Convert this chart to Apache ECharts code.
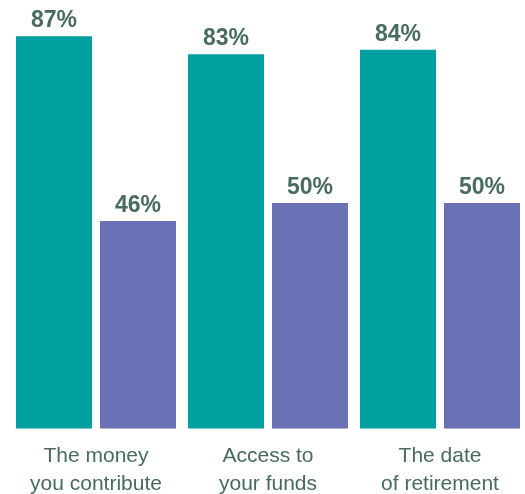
<!DOCTYPE html>
<html>
<head>
<meta charset="utf-8">
<script src="https://cdn.jsdelivr.net/npm/echarts@6/dist/echarts.min.js"></script>
<style>
  html, body { margin: 0; padding: 0; background: #ffffff; }
  #chart { width: 525px; height: 494px; }
</style>
</head>
<body>
<div id="chart"></div>
<script>
// Survey categories (two-line axis labels)
const categories = ['The money\nyou contribute', 'Access to\nyour funds', 'The date\nof retirement'];
// Share of respondents, first and second group (percent)
const seriesA = [87, 83, 84];
const seriesB = [46, 50, 50];

const TEXT = '#476a61';
const FONT = '"Liberation Sans", Arial, sans-serif';

const valueLabel = {
  show: true,
  position: 'top',
  distance: 4,
  formatter: p => p.value + '%',
  color: TEXT,
  fontFamily: FONT,
  fontWeight: 'bold',
  fontSize: 23
};

const chart = echarts.init(document.getElementById('chart'), null, { renderer: 'canvas' });
chart.setOption({
  animation: false,
  backgroundColor: '#ffffff',
  grid: {
    left: 10, width: 516, top: 22.6, bottom: 65.4,
    containLabel: false,
    outerBoundsMode: 'none'
  },
  xAxis: {
    type: 'category',
    data: categories,
    axisLine: { show: false },
    axisTick: { show: false },
    axisLabel: {
      margin: 14,
      color: TEXT,
      fontFamily: FONT,
      fontSize: 21,
      lineHeight: 28,
      interval: 0
    }
  },
  yAxis: {
    type: 'value',
    min: 0,
    max: 90,
    show: false,
    splitLine: { show: false }
  },
  series: [
    {
      type: 'bar',
      data: seriesA,
      barWidth: 76,
      barGap: '10.5%',
      itemStyle: { color: '#00a0a1' },
      label: valueLabel
    },
    {
      type: 'bar',
      data: seriesB,
      barWidth: 76,
      itemStyle: { color: '#6b71b5' },
      label: valueLabel
    }
  ]
});
</script>
</body>
</html>
